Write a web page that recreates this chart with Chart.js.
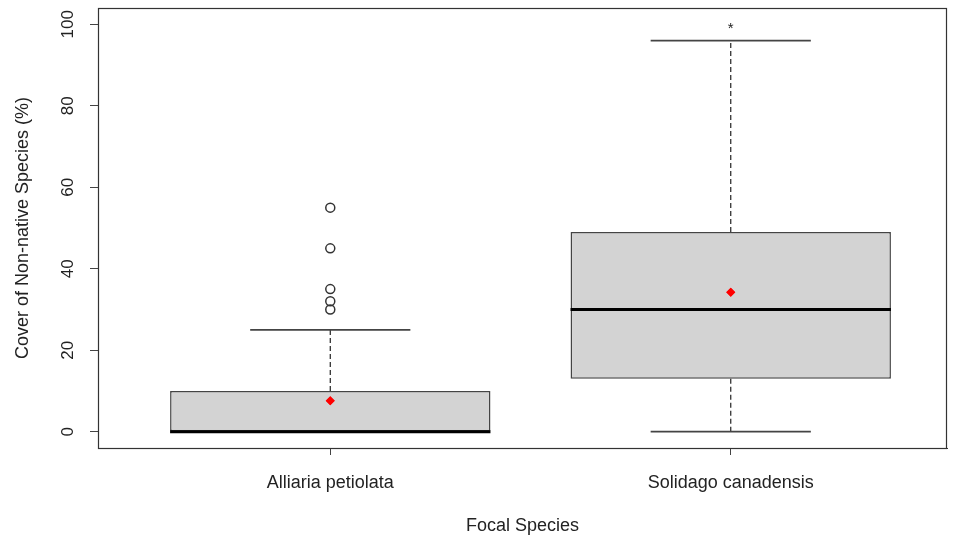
<!DOCTYPE html>
<html>
<head>
<meta charset="utf-8">
<script src="https://cdn.jsdelivr.net/npm/chart.js@4"></script>
<style>
  body { margin: 0; background: #fff; }
  #wrap { width: 953px; height: 541px; }
</style>
</head>
<body>
<div id="wrap"><canvas id="box" width="953" height="541"></canvas></div>
<script>
// Boxplot: cover of non-native species by focal species

const species = ['Alliaria petiolata', 'Solidago canadensis'];
const positions = [1, 2];
const lowerWhisker = [0, 0];
const q1 = [0, 13];
const median = [0, 30];
const q3 = [10, 49];
const upperWhisker = [25, 96];
const means = [7.6, 34.2];
const outliersAlliaria = [30, 32, 35, 45, 55];
const outliersSolidago = [];
const yTicks = [0, 20, 40, 60, 80, 100];
const starNotes = [{ x: 2, y: 99, text: '*' }];

const FONT = 'Liberation Sans, Arial, sans-serif';
const INK = '#333';

const outlierPoints = [];
outliersAlliaria.forEach(v => outlierPoints.push({ x: positions[0], y: v }));
outliersSolidago.forEach(v => outlierPoints.push({ x: positions[1], y: v }));

// whiskers, medians, frame and the star
const boxExtras = {
	id: 'boxExtras',
	afterDatasetsDraw(chart) {
		const { ctx, chartArea, scales: { x, y } } = chart;
		const bars = chart.getDatasetMeta(0).data;
		ctx.save();
		positions.forEach((p, i) => {
			const px = x.getPixelForValue(p);
			const w = bars[i].width;
			// dashed whiskers
			ctx.strokeStyle = '#222';
			ctx.lineWidth = 1.2;
			ctx.setLineDash([5, 3]);
			ctx.beginPath();
			ctx.moveTo(px, y.getPixelForValue(q3[i]));
			ctx.lineTo(px, y.getPixelForValue(upperWhisker[i]));
			if (lowerWhisker[i] < q1[i]) {
				ctx.moveTo(px, y.getPixelForValue(q1[i]));
				ctx.lineTo(px, y.getPixelForValue(lowerWhisker[i]));
			}
			ctx.stroke();
			// caps
			ctx.setLineDash([]);
			ctx.strokeStyle = '#444';
			ctx.lineWidth = 1.8;
			ctx.beginPath();
			[upperWhisker[i], lowerWhisker[i]].forEach(v => {
				const py = y.getPixelForValue(v);
				ctx.moveTo(px - w / 4, py);
				ctx.lineTo(px + w / 4, py);
			});
			ctx.stroke();
			// median
			ctx.strokeStyle = '#000';
			ctx.lineWidth = 3;
			ctx.beginPath();
			const my = y.getPixelForValue(median[i]);
			ctx.moveTo(px - w / 2, my);
			ctx.lineTo(px + w / 2, my);
			ctx.stroke();
		});
		// frame
		ctx.strokeStyle = INK;
		ctx.lineWidth = 1.2;
		ctx.strokeRect(chartArea.left + 0.5, chartArea.top + 0.5, chartArea.width - 1, chartArea.height);
		// star note
		ctx.fillStyle = '#222';
		ctx.font = '15px ' + FONT;
		ctx.textAlign = 'center';
		ctx.textBaseline = 'middle';
		starNotes.forEach(s => ctx.fillText(s.text, x.getPixelForValue(s.x), y.getPixelForValue(s.y)));
		ctx.restore();
	},
	afterDraw(chart) {
		// mean markers above the median lines
		chart.getDatasetMeta(2).data.forEach(el => el.draw(chart.ctx));
	}
};

const ctx = document.querySelector('#box').getContext('2d');

const chart = new Chart(ctx, {
	type: 'bar',
	data: {
		datasets: [{
			label: 'IQR',
			data: positions.map((p, i) => ({ x: p, y: [q1[i], q3[i]] })),
			backgroundColor: '#d3d3d3',
			borderColor: '#444',
			borderWidth: 1.5,
			borderSkipped: false,
			categoryPercentage: 1,
			barPercentage: 0.8,
			order: 3
		}, {
			type: 'scatter',
			label: 'Outliers',
			data: outlierPoints,
			pointStyle: 'circle',
			pointRadius: 4.5,
			pointBackgroundColor: 'rgba(0,0,0,0)',
			pointBorderColor: INK,
			pointBorderWidth: 1.5,
			order: 2
		}, {
			type: 'scatter',
			label: 'Mean',
			data: positions.map((p, i) => ({ x: p, y: means[i] })),
			pointStyle: 'rectRot',
			pointRadius: 4.5,
			pointBackgroundColor: '#ff0000',
			pointBorderColor: '#ff0000',
			pointBorderWidth: 0,
			order: 1
		}]
	},
	options: {
		responsive: false,
		animation: false,
		layout: { padding: { top: 8, right: 5, left: 0, bottom: 0 } },
		plugins: {
			legend: { display: false },
			tooltip: { enabled: false }
		},
		scales: {
			x: {
				type: 'linear',
				offset: false,
				min: 0.42,
				max: 2.54,
				afterBuildTicks: s => { s.ticks = positions.map(v => ({ value: v })); },
				afterFit: s => { s.height = 93; s.paddingLeft = 0; s.paddingRight = 0; },
				ticks: {
					callback: (v, i) => species[i],
					color: '#222',
					font: { family: FONT, size: 18 },
					padding: 17,
					maxRotation: 0
				},
				grid: { offset: false, drawOnChartArea: false, tickLength: 7, color: '#444' },
				border: { display: true, color: INK },
				title: {
					display: true,
					text: 'Focal Species',
					color: '#222',
					font: { family: FONT, size: 18 },
					padding: { top: 0, bottom: 4 }
				}
			},
			y: {
				min: -4,
				max: 104,
				afterBuildTicks: s => { s.ticks = yTicks.map(v => ({ value: v })); },
				afterFit: s => { s.width = 98; s.paddingTop = 0; s.paddingBottom = 0; },
				ticks: {
					color: '#222',
					font: { family: FONT, size: 17 },
					minRotation: 90,
					maxRotation: 90,
					crossAlign: 'center',
					padding: 8
				},
				grid: { drawOnChartArea: false, tickLength: 8, color: '#444' },
				border: { display: true, color: INK },
				title: {
					display: true,
					text: 'Cover of Non-native Species (%)',
					color: '#222',
					font: { family: FONT, size: 18 },
					padding: { top: 12, bottom: 0 }
				}
			}
		}
	},
	plugins: [boxExtras]
});
</script>
</body>
</html>
